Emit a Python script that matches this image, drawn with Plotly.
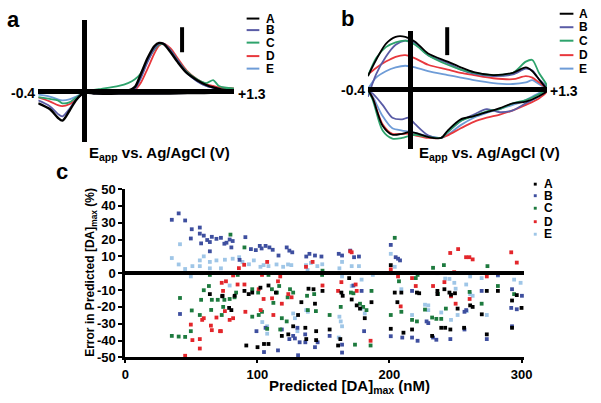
import plotly.graph_objects as go

W, H = 601, 403
FONT = "Arial, 'Liberation Sans', sans-serif"

# ---------------- Panel a: background-subtracted CVs ----------------
va_fwd = [-0.40, -0.20, 0.00, 0.15, 0.30, 0.38, 0.44, 0.49, 0.55, 0.61, 0.65, 0.69, 0.75, 0.81, 0.89, 0.98, 1.06, 1.12, 1.17, 1.30]
va_rev = [1.30, 1.10, 0.90, 0.60, 0.30, 0.10, 0.00, -0.07, -0.13, -0.19, -0.23, -0.30, -0.40]

ia_A_fwd = [0.0, 0.0, 0.0, 0.0, 0.05, 0.1, 0.5, 1.8, 3.5, 4.75, 5.07, 4.95, 4.1, 3.1, 1.95, 1.2, 0.7, 0.45, 0.3, 0.05]
ia_B_fwd = [0.0, 0.0, 0.0, 0.0, 0.05, 0.08, 0.3, 1.4, 3.1, 4.5, 5.0, 5.0, 4.3, 3.3, 2.0, 1.1, 0.6, 0.4, 0.25, 0.0]
ia_C_fwd = [0.0, 0.0, 0.05, 0.3, 0.6, 0.9, 1.3, 1.9, 3.3, 4.4, 4.9, 4.95, 4.3, 3.3, 2.1, 1.3, 0.9, 1.2, 0.6, 0.35]
ia_D_fwd = [0.0, 0.0, 0.0, 0.0, 0.05, 0.08, 0.2, 0.9, 2.4, 4.0, 4.8, 5.0, 4.5, 3.5, 2.2, 1.3, 0.8, 0.6, 0.45, 0.35]
ia_E_fwd = [0.0, 0.0, 0.0, 0.0, 0.05, 0.08, 0.3, 1.5, 3.2, 4.5, 4.95, 4.9, 4.2, 3.2, 1.95, 1.1, 0.6, 0.4, 0.25, 0.0]

ia_A_rev = [0.05, -0.1, -0.15, -0.2, -0.2, -0.2, -0.1, -0.85, -2.0, -3.0, -2.7, -1.8, -1.2]
ia_B_rev = [0.0, -0.1, -0.15, -0.2, -0.2, -0.2, -0.1, -0.8, -1.8, -2.55, -2.3, -1.5, -0.9]
ia_C_rev = [0.35, 0.15, 0.1, 0.05, 0.0, -0.05, -0.1, -0.6, -1.1, -1.2, -0.9, -0.75, -0.55]
ia_D_rev = [0.3, 0.1, 0.0, -0.05, -0.1, -0.15, -0.1, -0.8, -1.3, -1.5, -1.4, -1.0, -0.6]
ia_E_rev = [0.0, -0.1, -0.1, -0.15, -0.15, -0.15, -0.1, -0.5, -0.8, -0.9, -0.8, -0.5, -0.3]

# ---------------- Panel b: raw CVs ----------------
vb_top = [-0.40, -0.323, -0.230, -0.137, -0.045, 0.048, 0.171, 0.357, 0.481, 0.605, 0.790, 0.976, 1.099, 1.161, 1.223, 1.30]
vb_bot = [1.30, 1.223, 1.099, 0.976, 0.852, 0.728, 0.605, 0.481, 0.357, 0.295, 0.171, 0.048, -0.014, -0.076, -0.168, -0.261, -0.354, -0.40]

ib_A_top = [1.43, 3.1, 4.77, 5.5, 5.5, 5.0, 3.77, 2.93, 2.33, 1.83, 1.53, 1.77, 2.33, 1.93, 1.1, 0.0]
ib_B_top = [-0.73, 1.6, 3.43, 4.67, 5.1, 4.87, 3.6, 2.77, 2.1, 1.67, 1.43, 1.6, 2.2, 2.0, 1.1, 0.27]
ib_C_top = [1.43, 3.27, 4.43, 4.93, 5.1, 4.67, 3.6, 2.6, 2.1, 1.77, 1.53, 1.77, 2.93, 3.1, 1.77, 0.43]
ib_D_top = [1.6, 2.27, 2.93, 3.43, 3.6, 3.27, 2.6, 2.1, 1.77, 1.53, 1.2, 1.1, 1.43, 1.27, 0.77, 0.1]
ib_E_top = [0.1, 1.27, 1.93, 2.33, 2.5, 2.33, 1.93, 1.53, 1.27, 1.0, 0.7, 0.6, 0.77, 1.0, 0.6, 0.1]

ib_A_bot = [-0.13, -0.67, -1.23, -1.4, -1.9, -2.33, -2.73, -3.07, -4.23, -5.0, -4.9, -4.47, -4.4, -4.57, -4.67, -3.73, -0.9, 0.0]
ib_B_bot = [0.0, -0.67, -1.4, -2.13, -2.33, -2.0, -2.57, -3.23, -4.4, -5.0, -4.73, -3.57, -2.9, -3.07, -2.9, -1.57, -0.4, -0.13]
ib_C_bot = [0.1, -0.47, -1.07, -1.4, -2.0, -2.23, -2.73, -3.23, -4.4, -5.0, -4.9, -4.67, -4.8, -5.0, -5.07, -4.23, -1.07, 0.0]
ib_D_bot = [-0.13, -0.9, -1.57, -2.13, -2.57, -2.9, -3.33, -4.0, -4.73, -5.0, -5.0, -4.73, -4.57, -4.57, -4.57, -3.57, -0.9, 0.0]
ib_E_bot = [0.1, -0.33, -1.07, -1.57, -2.0, -2.4, -2.9, -3.67, -4.67, -5.0, -4.8, -4.47, -4.33, -4.23, -4.0, -2.73, -0.73, 0.0]

# ---------------- Panel c: prediction error scatter ----------------
cA_x = [64, 73.4, 73.6, 78.6, 82.8, 90.2, 93.4, 96.1, 102.3, 108.4, 114, 80.3, 91.6, 100.1, 105, 108.4, 118.5, 123.4, 127.1, 133.3, 138.7, 142.5, 143.6, 136.3, 137, 144.5, 144.5, 149.3, 130.8,
        163.6, 164.6, 169.5, 171.4, 175.2, 177.7, 181.3, 186.4, 154.7, 161.1, 162.8, 201, 204, 209, 206, 217.1, 210.6, 220.8, 222.5, 201,
        236.3, 236.3, 241.6, 245.4, 249.6, 246.6, 251.6, 261.1, 263, 256.5, 239.2, 242.2, 246.1, 269.9, 273.7, 282.1, 292.8, 296.4, 300, 292.8, 273.7, 232.3]
cA_y = [-12.4, -13.7, -13.4, -20.6, -13.4, -10.5, -12.4, -11.5, -8.6, -7.3, -11.5, -21.9, -42.9, -43.9, -42, -42, -37.2, -36.3, -31.5, -17.2, -9.2, -9.5, -18.1, -32.4, -39.1, -39.7, -34.4, -10.5, -24.8,
        -11.5, -13.4, -2.9, -15.6, -19.1, -21, -26.7, -17.2, -33.4, -42.9, -39.1, 4.8, -11.5, -11.5, -17.2, -33.4, -35.3, -11.5, -11.9, -33.0,
        -10.5, -12.4, -9.5, -11.5, -11.9, -12.8, -21, -19.1, -20, -32.4, -32.4, -32.4, -33.4, -24.4, -10.5, -10.5, -16.2, -13, -20.6, -32.4, -36.3, -37.2]

cB_x = [35.2, 40.4, 45.3, 50.3, 49.6, 56.4, 56.4, 59.4, 57.4, 64, 62, 65.5, 64, 69, 72.4, 41.4, 75, 86.5,
        76.6, 79, 81.3, 80.3, 90.9, 95.1, 98.8, 101.8, 103.2, 106.2, 109.1, 111.6, 116, 122.2, 124.2, 126.4, 137, 139.4, 143.6, 148.5,
        130.3, 127.1, 128.4, 136.2, 132, 136.3, 143.6, 115.6, 105, 130.8, 145.6, 124.2, 118.5, 99.3, 106.2,
        161.6, 164.1, 170.3, 173.2, 176.9, 201, 204.7, 206.5, 208, 172.7, 178.9, 201, 154.7, 164.1, 164.1, 180.8, 209.7, 217.1, 221.3, 217.1, 229.4,
        233, 235.5, 246.1, 256.8, 273.7, 292.8, 292.2, 296.4, 300.3, 269.8, 256.8, 258.1, 282.1, 228.1, 292.8]
cB_y = [31.7, 35.5, 31.3, 26.1, 20.6, 27.1, 23.5, 22.3, 17.7, 13, 19.7, 21.6, 18.5, 20.4, 21, -24.2, 17.5, 7.9,
        18.1, 20, 19.1, 15.3, 21.4, 14.3, 13.7, 16.2, 14.7, 16.2, 15.3, 13.9, 10.5, 15.3, 13.4, 12.4, 9.9, 11.5, 10.5, 9.9,
        -32.4, -37.2, -38.7, -36.3, -41, -41, -43.9, -45.8, -46.8, -48.7, -41, -39.1, -33.4, -34.4, -32.4,
        11.5, 10.5, 13.4, 9.5, 9.9, 16.8, 9.5, 8.6, 7.6, -7.3, -10.5, -37.4, -37.2, -42.4, -47.1, -34.4, -38.2, -38.2, -40.1, -10.5, -29.6,
        -38.2, -39.5, -39.1, -33.4, -39.1, -31.5, -20.6, -21.4, -13.4, -10.5, -22.9, -21.9, -1, -28.6, -9.5]

cC_x = [35.2, 40.4, 45.3, 41.4, 50.3, 49.6, 56.4, 57.4, 59.4, 63.3, 65, 65.5, 70, 73, 75, 64,
        79.6, 90.2, 74.1, 79, 82.7, 83.9, 96.1, 100.6, 111, 114.8, 116.5, 122.9, 124.7, 127.1, 96.1, 101, 103.5, 112.1, 118.5, 122.2, 107.4, 117.3, 137.6, 138.2, 144.3, 143, 85.1, 108.4, 149,
        149.3, 204, 163.1, 170.8, 172.7, 177.7, 180.1, 182.6, 186.4, 209, 201, 217.1, 220.8, 173.9, 185.7, 154.7, 221.3, 207.2, 219.9,
        233, 241.2, 274.2, 236.7, 232.3, 235.5, 242.7, 260.7, 269.8, 282.1, 294.4, 239.2, 226.9]
cC_y = [-37.2, -37.6, -37.8, -14.7, -22.1, -34.4, -24.8, -15.8, -10.1, -7.6, -21.8, -15.8, -15.8, -24.8, -15.8, -1,
        22.9, 15.3, -20, -15.3, -14.3, -11.5, -9.5, -11.5, -9.5, -11.5, -7.6, -14.3, -9.5, -11.5, -25.8, -24.8, -22.9, -17.6, -26.7, -28.6, -33, -33.4, -13.4, -21.9, -22.5, -12.4, -1, -1, -1,
        1.5, 21, -20, -11.5, -11.9, -18.1, -20, -21.9, -10.5, -22.9, -24.8, -27.7, -28.6, -42.4, -42.9, -24.8, -1, -4.8, -2.9,
        3.2, 4.8, 4.2, -12.4, -26.3, -27.1, -21, -11.1, -18.1, -7.6, -12.4, -27.1, -21.6]

cD_x = [45.3, 49.6, 50.8, 56.4, 56.4, 58.2, 59.4, 64.8, 65.5, 69, 72.4, 73, 74,
        76.2, 81.6, 85, 90.2, 101, 104.7, 107.4, 103.5, 111.1, 115.6, 117.3, 123.4, 125.9, 136.8, 141.8, 81.6, 79, 90.9, 102.5, 112.1, 71.7, 75.4, 118.5, 86, 90,
        149.3, 163.6, 161.1, 170.3, 171.4, 174.4, 175.2, 201, 206.5, 208.5, 217.1, 219.9, 185.7,
        246, 252, 258, 260.5, 263, 292.2, 296.4, 249, 233, 241.6, 250.1, 260.7, 246.6, 273.7]
cD_y = [-49, -30.5, -39.7, -39.1, -44.7, -27.7, -26.7, -31.1, -33.8, -26.3, -34.4, -5.7, -10.5,
        -4.8, -1.3, -6.7, -6.7, -9.5, -15.3, 6.7, -1, -14.9, -4.8, -1.9, -12.4, -14.3, 3.8, 6.7, -26.7, -27.7, -22.9, -21.9, -24.8, -34.4, -22.5, -18.1, 3, 5,
        -7.3, -5.3, -10.5, 13, 12.4, -6.7, -10.5, 2.3, -1.9, -19.7, -2.9, -7.6, -40.1,
        12, 14.3, 9.5, 9.5, 8.2, 12.4, 6.3, 0.6, -7.6, -5.3, -18.1, -15.3, -13.7, -1.9]

cE_x = [41.4, 35.2, 40.4, 45.3, 50.8, 49.6, 56.4, 56.4, 59.4, 64, 64, 69, 72.4, 57.7,
        75.4, 81.3, 86.2, 88.7, 93.6, 97.3, 102.3, 104.7, 108.4, 114.5, 119.5, 123.2, 125.7, 136.8, 138, 140.5, 145.4, 149.1, 79, 103.7, 107.4, 127.1, 128.4, 137, 138.2, 130.3, 107.4,
        162.1, 171.4, 176.9, 187.4, 201, 204, 164.1, 178.9, 163.1, 164.1, 162.1, 178.9, 181.3, 161.6, 217.1, 229.4, 229.4, 164.1, 171.4, 209,
        236.3, 226.9, 242.2, 245.4, 249.1, 250.1, 258.1, 261.1, 263, 269.8, 273.7, 258.5, 251.6, 246.6, 239.2, 294.4, 299.3, 282.1, 261.1]
cE_y = [17.2, 9, 5.2, 2.5, 4.2, -1.9, 4.2, 7.6, 10, 6.7, 2.9, 7.6, 2.9, 0,
        8, 8.6, 9.5, 6.7, 5.3, 7.6, 3.8, 4.8, 4.2, 5.2, 3.8, 5.2, 4.8, 4.8, 1.9, 6.1, 4.2, 5.3, -7.3, -29, -35.9, -23.9, -26.7, -21.9, -22.9, -34.4, -31.5,
        2.9, 4.2, 4.2, -1, 11.5, 3.8, 6.7, -3.8, -28.6, -31.5, -25.8, -21, -23.9, -38.2, -24.8, -19.1, -21.9, -1.9, -7.6, -9.5,
        0, -18.7, -3.2, -3.4, -5.7, -9.2, -6.7, -1.9, -13.4, -2.9, -24.8, -22.5, -24.8, -27.7, -23.3, -3.8, -5.7, -1.5, -12.4]

series_names = ["A", "B", "C", "D", "E"]
line_colors = ["#000000", "#5a5ca6", "#2ea36c", "#e8383d", "#6e9cd7"]
dot_colors = ["#000000", "#3e4f9f", "#1d7a3e", "#e3262b", "#9fc6e7"]

y_ticks = [50, 40, 30, 20, 10, 0, -10, -20, -30, -40, -50]
y_tick_text = ["50", "40", "30", "20", "10", "0", "-10", "-20", "-30", "-40", "-50"]
x_ticks = [0, 100, 200, 300]
x_tick_text = ["0", "100", "200", "300"]


def px(x):
    return x / W


def py(y):
    return 1 - y / H


fig = go.Figure()

a_curves = [(ia_A_fwd, ia_A_rev), (ia_B_fwd, ia_B_rev), (ia_C_fwd, ia_C_rev), (ia_D_fwd, ia_D_rev), (ia_E_fwd, ia_E_rev)]
for i in [4, 3, 2, 1, 0]:
    f, r = a_curves[i]
    fig.add_trace(go.Scatter(x=va_fwd + va_rev, y=f + r, mode="lines", name=series_names[i],
                             line=dict(color=line_colors[i], width=2.4 if i == 0 else 1.8, shape="spline", smoothing=0.8),
                             xaxis="x", yaxis="y", showlegend=False, hoverinfo="skip"))

b_curves = [(ib_A_top, ib_A_bot), (ib_B_top, ib_B_bot), (ib_C_top, ib_C_bot), (ib_D_top, ib_D_bot), (ib_E_top, ib_E_bot)]
for i in [4, 3, 1, 2, 0]:
    t, b = b_curves[i]
    fig.add_trace(go.Scatter(x=vb_top + vb_bot, y=t + b, mode="lines", name=series_names[i],
                             line=dict(color=line_colors[i], width=1.8, shape="spline", smoothing=0.8),
                             xaxis="x2", yaxis="y2", showlegend=False, hoverinfo="skip"))

c_data = [(cA_x, cA_y), (cB_x, cB_y), (cC_x, cC_y), (cD_x, cD_y), (cE_x, cE_y)]
for i in [4, 1, 2, 3, 0]:
    xs, ys = c_data[i]
    fig.add_trace(go.Scatter(x=xs, y=ys, mode="markers", name=series_names[i],
                             marker=dict(symbol="square", size=3.8, color=dot_colors[i], line=dict(width=0)),
                             xaxis="x3", yaxis="y3", showlegend=False, cliponaxis=False))

hidden_axis = dict(showgrid=False, showticklabels=False, ticks="", showline=False,
                   zeroline=True, zerolinecolor="black", zerolinewidth=5, fixedrange=True)

layout = dict(
    width=W, height=H, margin=dict(l=0, r=0, t=0, b=0),
    paper_bgcolor="white", plot_bgcolor="rgba(0,0,0,0)",
    font=dict(family=FONT, color="black"),
    xaxis=dict(domain=[px(35), px(235)], range=[-0.4, 1.3], anchor="y", **hidden_axis),
    yaxis=dict(domain=[py(140), py(13)], range=[-5.2, 7.5], anchor="x", **hidden_axis),
    xaxis2=dict(domain=[px(372), px(555)], range=[-0.4, 1.3], anchor="y2", **hidden_axis),
    yaxis2=dict(domain=[py(148), py(25)], range=[-6.2, 6.1], anchor="x2", **hidden_axis),
    xaxis3=dict(domain=[px(124), px(531)], range=[0, 301.5], anchor="y3",
                showgrid=False, zeroline=False, showline=True, linecolor="black", linewidth=3,
                ticks="outside", ticklen=3, tickwidth=2, tickcolor="black",
                tickvals=x_ticks, ticktext=x_tick_text,
                tickfont=dict(family=FONT, size=13, weight="bold"), fixedrange=True),
    yaxis3=dict(domain=[py(364), py(189)], range=[-50, 50], anchor="x3",
                showgrid=False, zeroline=True, zerolinecolor="black", zerolinewidth=4,
                showline=True, linecolor="black", linewidth=3,
                ticks="outside", ticklen=4, tickwidth=2, tickcolor="black",
                tickvals=y_ticks, ticktext=y_tick_text,
                tickfont=dict(family=FONT, size=13, weight="bold"), fixedrange=True),
)
fig.update_layout(**layout)
try:
    fig.update_layout(xaxis_zerolinelayer="above traces", yaxis_zerolinelayer="above traces",
                      xaxis2_zerolinelayer="above traces", yaxis2_zerolinelayer="above traces",
                      yaxis3_zerolinelayer="above traces")
except Exception:
    pass

ann = []


def label(text, x, y, size, xanchor="center", yanchor="middle", textangle=0):
    ann.append(dict(text=text, x=px(x), y=py(y), xref="paper", yref="paper", showarrow=False,
                    xanchor=xanchor, yanchor=yanchor, textangle=textangle, borderpad=0,
                    font=dict(family=FONT, size=size, color="black", weight="bold")))


# panel letters
label("a", 2, 13, 22, xanchor="left")
label("b", 351, 12, 22)
label("c", 59, 171, 22)

# panel a texts
label("-0.4", 33, 89, 14, xanchor="right")
label("+1.3", 238, 90, 14, xanchor="left")
label("E<sub>app</sub> vs. Ag/AgCl (V)", 159, 152, 15)
# panel b texts
label("-0.4", 370, 86, 14, xanchor="right")
label("+1.3", 557, 87, 14, xanchor="left")
label("E<sub>app</sub> vs. Ag/AgCl (V)", 496, 152, 15)

# panel c titles
label("Predicted [DA]<sub>max</sub> (nM)", 353, 394, 15)
label("Error in Predicted [DA]<sub>max</sub> (%)", 89, 276, 12, textangle=-90)

shapes = []
legend_a_y = [12, 24, 37, 51, 64]
legend_b_y = [7, 21, 35, 50, 64]
legend_c_y = [184, 196, 209, 223, 236]
for i, name in enumerate(series_names):
    ya = legend_a_y[i]
    shapes.append(dict(type="line", xref="paper", yref="paper", x0=px(248), x1=px(261), y0=py(ya), y1=py(ya),
                       line=dict(color=line_colors[i], width=2)))
    label(name, 267, ya, 12, xanchor="left")
    yb = legend_b_y[i]
    shapes.append(dict(type="line", xref="paper", yref="paper", x0=px(568), x1=px(582), y0=py(yb), y1=py(yb),
                       line=dict(color=line_colors[i], width=2)))
    label(name, 587, yb, 12, xanchor="left")
    yc = legend_c_y[i]
    shapes.append(dict(type="rect", xref="paper", yref="paper", x0=px(541.5), x1=px(544.5), y0=py(yc + 1.5), y1=py(yc - 1.5),
                       fillcolor=dot_colors[i], line=dict(width=0)))
    label(name, 551, yc, 12, xanchor="left")

# scale bars
shapes.append(dict(type="line", xref="paper", yref="paper", x0=px(182), x1=px(182), y0=py(21), y1=py(47),
                   line=dict(color="black", width=4)))
shapes.append(dict(type="line", xref="paper", yref="paper", x0=px(453), x1=px(453), y0=py(21), y1=py(50),
                   line=dict(color="black", width=4)))

fig.update_layout(annotations=ann, shapes=shapes)
fig.write_html("out.html", config={"displayModeBar": False},
               post_script="document.body.style.margin='0';document.body.style.padding='0';document.body.style.overflow='hidden';")
